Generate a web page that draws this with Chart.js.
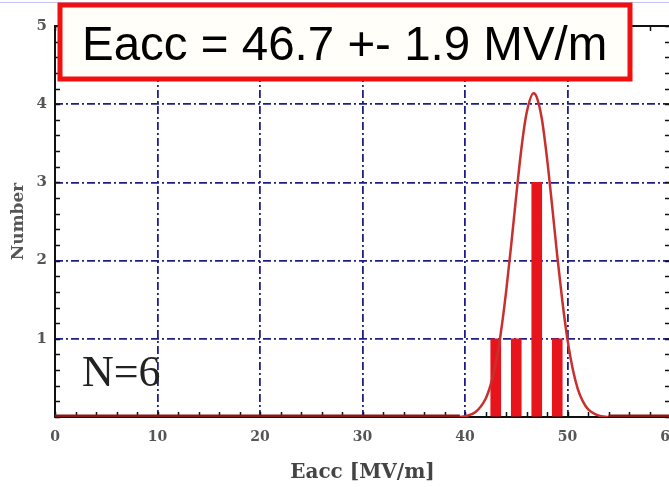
<!DOCTYPE html>
<html>
<head>
<meta charset="utf-8">
<script src="https://cdn.jsdelivr.net/npm/chart.js@4"></script>
<style>
    body { margin: 0; background: #fff; }
    #wrap { width: 669px; height: 487px; overflow: hidden; position: relative; }
    canvas { display: block; }
</style>
</head>
<body>
<div id="wrap"><canvas id="histChart" width="700" height="487"></canvas></div>
<script>
// histogram bins (Eacc MV/m) and counts
const binCenters = [43, 45, 47, 49];
const binCounts = [1, 1, 3, 1];

// fitted curve
const curveX = [39.5, 40, 41, 42, 42.5, 43, 43.5, 44, 44.5, 45, 45.5, 46, 46.7, 47, 47.5, 48, 48.5, 49, 49.5, 50, 50.5, 51, 51.5, 52, 53, 54];
const curveY = [0, 0.01, 0.06, 0.23, 0.41, 0.68, 1.08, 1.59, 2.19, 2.83, 3.43, 3.88, 4.14, 4.09, 3.81, 3.31, 2.70, 2.06, 1.48, 0.99, 0.62, 0.36, 0.20, 0.10, 0.02, 0];

// flat dark baseline segments outside the curve
const baseX = [0, 39.5, 47, 54, 60];
const baseY = [0, 0, null, 0, 0];

const xTicks = [0, 10, 20, 30, 40, 50, 60];
const yTicks = [0, 1, 2, 3, 4, 5];

const titleText = 'Eacc = 46.7 +- 1.9 MV/m';
const countText = 'N=6';

const gridColor = '#1e1e88';
const tickFont = { family: 'DejaVu Serif', size: 14, weight: 'bold' };

// frame + small inward ticks on all four sides
const framePlugin = {
    id: 'frame',
    beforeDatasetsDraw(chart) {
        const { ctx, chartArea: a, scales: { x, y } } = chart;
        ctx.save();
        ctx.strokeStyle = '#111';
        ctx.lineWidth = 2;
        ctx.strokeRect(a.left, a.top, a.right - a.left, a.bottom - a.top);
        ctx.lineWidth = 1.5;
        ctx.beginPath();
        for (let v = 0; v <= 60; v += 2) {
            const px = Math.round(x.getPixelForValue(v)) + 0.5;
            ctx.moveTo(px, a.bottom); ctx.lineTo(px, a.bottom - 5);
            ctx.moveTo(px, a.top); ctx.lineTo(px, a.top + 5);
        }
        for (let i = 0; i <= 25; i++) {
            const py = Math.round(y.getPixelForValue(i * 0.2)) + 0.5;
            ctx.moveTo(a.left, py); ctx.lineTo(a.left + 5, py);
            ctx.moveTo(a.right, py); ctx.lineTo(a.right - 5, py);
        }
        ctx.stroke();
        ctx.restore();
    },
    afterDraw(chart) {
        const { ctx } = chart;
        ctx.save();
        // faint line along the top of the slide
        ctx.strokeStyle = '#c4c4ee';
        ctx.lineWidth = 1;
        ctx.beginPath();
        ctx.moveTo(0, 2.5); ctx.lineTo(669, 2.5);
        ctx.stroke();

        // title box
        ctx.fillStyle = '#fffef8';
        ctx.fillRect(60, 5, 570, 74);
        ctx.strokeStyle = '#f01010';
        ctx.lineWidth = 5;
        ctx.strokeRect(60, 5, 570, 74);
        ctx.fillStyle = '#000';
        ctx.font = '47.5px "Liberation Sans", Arial, sans-serif';
        ctx.textBaseline = 'alphabetic';
        ctx.fillText(titleText, 82, 60);

        // sample count
        ctx.fillStyle = '#222';
        ctx.font = '44px "Liberation Serif", serif';
        ctx.fillText(countText, 82, 386);
        ctx.restore();
    }
};

new Chart(document.getElementById('histChart'), {
    type: 'bar',
    data: {
        datasets: [
            {
                type: 'bar',
                data: binCenters.map((c, i) => ({ x: c, y: binCounts[i] })),
                backgroundColor: '#e8141c',
                barThickness: 10,
                order: 3
            },
            {
                type: 'line',
                data: curveX.map((c, i) => ({ x: c, y: curveY[i] })),
                borderColor: '#c8302f',
                borderWidth: 2.5,
                pointRadius: 0,
                cubicInterpolationMode: 'monotone',
                order: 2
            },
            {
                type: 'line',
                data: baseX.map((c, i) => ({ x: c, y: baseY[i] })),
                borderColor: '#8a1616',
                borderWidth: 5,
                pointRadius: 0,
                spanGaps: false,
                order: 1
            }
        ]
    },
    options: {
        responsive: false,
        animation: false,
        events: [],
        layout: {
            padding: { left: 0, right: 30, top: 26, bottom: 0 }
        },
        plugins: {
            legend: { display: false },
            tooltip: { enabled: false }
        },
        scales: {
            x: {
                type: 'linear',
                min: 0,
                max: 60,
                offset: false,
                afterFit: function(scale) { scale.height = 70; },
                afterBuildTicks: function(scale) { scale.ticks = xTicks.map(v => ({ value: v })); },
                ticks: {
                    font: tickFont,
                    color: '#555',
                    padding: 12,
                    maxRotation: 0
                },
                grid: {
                    offset: false,
                    drawTicks: false,
                    lineWidth: 1.8,
                    color: function(ctx) {
                        const v = ctx.tick ? ctx.tick.value : 0;
                        return (v === 0 || v === 60) ? 'rgba(0,0,0,0)' : gridColor;
                    }
                },
                border: { display: false, dash: [8, 3, 2, 3] },
                title: {
                    display: true,
                    text: 'Eacc [MV/m]',
                    font: { family: 'DejaVu Serif', size: 20, weight: 'bold' },
                    color: '#444',
                    padding: { top: 0, bottom: 2 }
                }
            },
            y: {
                min: 0,
                max: 5,
                afterFit: function(scale) { scale.width = 55; },
                afterBuildTicks: function(scale) { scale.ticks = yTicks.map(v => ({ value: v })); },
                ticks: {
                    font: { family: 'DejaVu Serif', size: 15, weight: 'bold' },
                    color: '#555',
                    padding: 8,
                    callback: function(value) { return value === 0 ? '' : value; }
                },
                grid: {
                    drawTicks: false,
                    lineWidth: 1.8,
                    color: function(ctx) {
                        const v = ctx.tick ? ctx.tick.value : 0;
                        return (v === 0 || v === 5) ? 'rgba(0,0,0,0)' : gridColor;
                    }
                },
                border: { display: false, dash: [8, 3, 2, 3] },
                title: {
                    display: true,
                    text: 'Number',
                    font: { family: 'DejaVu Serif', size: 17, weight: 'bold' },
                    color: '#555',
                    padding: { top: 8, bottom: 0 }
                }
            }
        }
    },
    plugins: [framePlugin]
});
</script>
</body>
</html>
